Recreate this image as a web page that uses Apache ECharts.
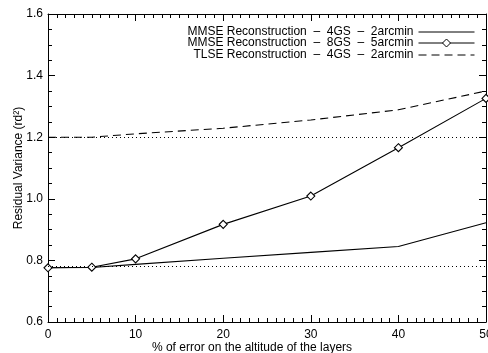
<!DOCTYPE html>
<html>
<head>
<meta charset="utf-8">
<script src="https://cdn.jsdelivr.net/npm/echarts@6/dist/echarts.min.js"></script>
<style>html,body{margin:0;padding:0;background:#fff}#c{width:488px;height:353px}</style>
</head>
<body>
<div id="c"></div>
<script>
var xValues = [0, 5, 10, 20, 30, 40, 50];
var mmse4GS = [0.776, 0.777, 0.787, 0.807, 0.826, 0.845, 0.922];
var mmse8GS = [0.776, 0.778, 0.805, 0.917, 1.009, 1.166, 1.326];
var tlse4GS = [1.200, 1.200, 1.211, 1.229, 1.256, 1.289, 1.350];
var refLevels = [1.2, 0.775];
var seriesNames = [
  'MMSE Reconstruction  \u2013  4GS  \u2013  2arcmin',
  'MMSE Reconstruction  \u2013  8GS  \u2013  5arcmin',
  'TLSE Reconstruction  \u2013  4GS  \u2013  2arcmin'
];
var xTitle = '% of error on the altitude of the layers';
var yTitle = 'Residual Variance (rd\u00B2)';

function pairs(ys) { return xValues.map(function (x, i) { return [x, ys[i]]; }); }

var FONT = 'Liberation Sans';
var black = '#000';
function xAx(pos, labels) {
  return {
    type: 'value', min: 0, max: 50, interval: 10, position: pos,
    axisLine: { show: true, lineStyle: { color: black, width: 1 } },
    axisTick: { show: true, inside: true, length: 7, lineStyle: { color: black } },
    minorTick: { show: true, splitNumber: 10, length: 4, lineStyle: { color: black } },
    splitLine: { show: false }, minorSplitLine: { show: false },
    axisLabel: { show: labels, margin: 7, fontSize: 12, color: black, fontFamily: FONT },
    name: labels ? xTitle : '', nameLocation: 'middle', nameGap: 20, nameMoveOverlap: false,
    nameTextStyle: { fontSize: 12, color: black, fontFamily: FONT, padding: [0, 30, 0, 0] }
  };
}
function yAx(pos, labels) {
  return {
    type: 'value', min: 0.6, max: 1.6, interval: 0.2, position: pos,
    axisLine: { show: true, onZero: false, lineStyle: { color: black, width: 1 } },
    axisTick: { show: true, inside: true, length: 7, lineStyle: { color: black } },
    minorTick: { show: true, splitNumber: 4, length: 4, lineStyle: { color: black } },
    splitLine: { show: false }, minorSplitLine: { show: false },
    axisLabel: { show: labels, margin: 5, fontSize: 12, color: black, fontFamily: FONT,
      formatter: function (v) { return v.toFixed(1); } },
    name: labels ? yTitle : '', nameLocation: 'middle', nameGap: 23, nameMoveOverlap: false,
    nameTextStyle: { fontSize: 12, color: black, fontFamily: FONT }
  };
}
function legendAt(idx, top, hideSymbol) {
  return {
    data: [seriesNames[idx]], right: 13, top: top, orient: 'vertical', align: 'right',
    padding: 0, itemWidth: 56, itemHeight: 10, itemGap: 0, selectedMode: false,
    textStyle: { fontSize: 12, color: black, fontFamily: FONT },
    lineStyle: { width: 1 },
    itemStyle: hideSymbol ? { opacity: 0 } : { borderWidth: 1 }
  };
}
var chart = echarts.init(document.getElementById('c'), null, { renderer: 'canvas' });
chart.setOption({
  animation: false,
  backgroundColor: '#fff',
  textStyle: { fontFamily: FONT },
  grid: { left: 48, right: 2, top: 14, bottom: 31, containLabel: false, outerBoundsMode: 'none' },
  legend: [legendAt(0, 26, true), legendAt(1, 37, false), legendAt(2, 49, true)],
  xAxis: [xAx('bottom', true), xAx('top', false)],
  yAxis: [yAx('left', true), yAx('right', false)],
  series: [
    {
      name: seriesNames[0], type: 'line', data: pairs(mmse4GS), symbol: 'none',
      lineStyle: { color: black, width: 1.1 }, itemStyle: { color: black },
      markLine: {
        silent: true, symbol: 'none', label: { show: false },
        lineStyle: { color: black, width: 1, type: [1, 3] },
        data: refLevels.map(function (v) { return { yAxis: v }; })
      }
    },
    {
      name: seriesNames[1], type: 'line', data: pairs(mmse8GS), symbol: 'diamond',
      symbolSize: 8, showSymbol: true,
      lineStyle: { color: black, width: 1.1 },
      itemStyle: { color: '#fff', borderColor: black, borderWidth: 1.1 }
    },
    {
      name: seriesNames[2], type: 'line', data: pairs(tlse4GS), symbol: 'none',
      lineStyle: { color: black, width: 1.1, type: [8, 5] }, itemStyle: { color: black }
    }
  ]
});
</script>
</body>
</html>
